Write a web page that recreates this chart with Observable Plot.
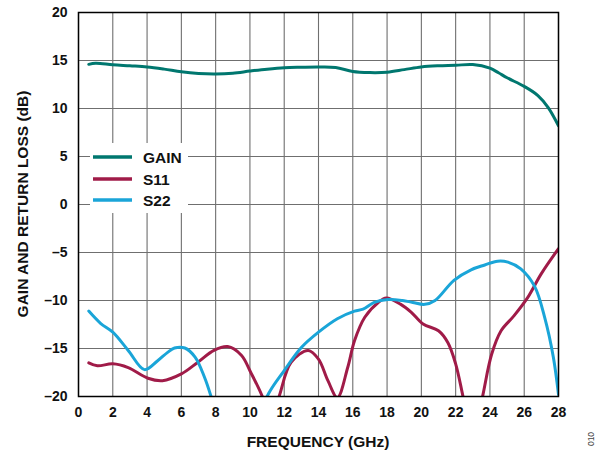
<!DOCTYPE html>
<html>
<head>
<meta charset="utf-8">
<script src="https://cdn.jsdelivr.net/npm/d3@7"></script>
<script src="https://cdn.jsdelivr.net/npm/@observablehq/plot@0.6"></script>
<style>
  html, body { margin: 0; padding: 0; background: #fff; }
  #chart { width: 605px; height: 455px; }
</style>
</head>
<body>
<div id="chart"></div>
<script>
// ---- data ----
const xTicks = [0, 2, 4, 6, 8, 10, 12, 14, 16, 18, 20, 22, 24, 26, 28];
const yTicks = [-20, -15, -10, -5, 0, 5, 10, 15, 20];
const seriesNames = ["GAIN", "S11", "S22"];

const gainFreq = [0.6, 1, 2, 3, 4, 5, 6, 7, 8, 9, 10, 11, 12, 13, 14, 15, 16, 17, 18, 19, 20, 21, 22, 23, 24, 24.5, 25, 26, 26.8, 27.4, 28];
const gainDb   = [14.6, 14.72, 14.56, 14.45, 14.33, 14.1, 13.82, 13.65, 13.6, 13.68, 13.9, 14.1, 14.25, 14.3, 14.33, 14.28, 13.85, 13.74, 13.78, 14.05, 14.33, 14.45, 14.5, 14.58, 14.2, 13.72, 13.2, 12.3, 11.35, 10.1, 8.2];

const s11Freq = [0.6, 1.1, 2, 2.9, 4.05, 4.9, 6, 6.95, 7.9, 8.7, 9.5, 10.05, 10.7, 11.2, 11.7, 12.4, 13.4, 14, 14.55, 15.1, 15.7, 16.1, 16.7, 17.5, 17.95, 18.8, 19.4, 20.1, 21, 21.55, 22, 22.4, 23, 23.6, 24.1, 24.65, 25.4, 26.2, 27, 28];
const s11Db   = [-16.5, -16.8, -16.6, -17.0, -18.1, -18.35, -17.65, -16.45, -15.2, -14.8, -15.7, -17.5, -19.9, -22.5, -20, -16.45, -15.2, -16.1, -18.35, -20.1, -17.0, -14.2, -11.75, -10.2, -9.75, -10.4, -11.2, -12.45, -13.15, -14.4, -16.6, -19.75, -25, -19.75, -15.6, -13.15, -11.6, -9.7, -7.2, -4.6];

const s22Freq = [0.6, 1.3, 2, 2.9, 3.85, 4.6, 5.2, 5.6, 6.2, 6.8, 7.35, 7.75, 8.3, 9.3, 10.3, 11, 12, 13, 14, 15.1, 16.1, 16.6, 17.25, 18.05, 18.9, 19.5, 20.2, 20.8, 21.9, 22.9, 23.7, 24.45, 25.05, 25.8, 26.6, 27.2, 27.7, 28];
const s22Db   = [-11.1, -12.4, -13.3, -15.2, -17.2, -16.3, -15.4, -14.95, -14.95, -15.9, -18.0, -20.1, -23.5, -26, -24, -20, -17.3, -14.9, -13.3, -11.9, -11.1, -10.9, -10.2, -9.9, -10.0, -10.2, -10.4, -10.0, -7.9, -6.8, -6.3, -5.9, -6.0, -6.7, -8.5, -11.8, -15.9, -19.8];

const colors = { GAIN: "#00776f", S11: "#a01b48", S22: "#1aa5d8" };
const FONT = "'Liberation Sans', Arial, Helvetica, sans-serif";

const toRows = (fs, vs, name) => fs.map((f, i) => ({ f, v: vs[i], name }));
const gainRows = toRows(gainFreq, gainDb, "GAIN");
const s11Rows = toRows(s11Freq, s11Db, "S11");
const s22Rows = toRows(s22Freq, s22Db, "S22");

const W = 605, H = 455;
const mL = 78, mR = 47, mT = 12, mB = 59;

const chart = Plot.plot({
  width: W,
  height: H,
  marginLeft: mL,
  marginRight: mR,
  marginTop: mT,
  marginBottom: mB,
  style: { fontFamily: FONT, background: "#fff", color: "#111" },
  x: { domain: [0, 28] },
  y: { domain: [-20, 20] },
  marks: [
    Plot.gridX(xTicks, { stroke: "#6f6f6f", strokeOpacity: 1, strokeWidth: 1.1 }),
    Plot.gridY(yTicks, { stroke: "#6f6f6f", strokeOpacity: 1, strokeWidth: 1.1 }),
    Plot.line(s11Rows, { x: "f", y: "v", stroke: colors.S11, strokeWidth: 3, curve: "catmull-rom", clip: true }),
    Plot.line(s22Rows, { x: "f", y: "v", stroke: colors.S22, strokeWidth: 3, curve: "catmull-rom", clip: true }),
    Plot.line(gainRows, { x: "f", y: "v", stroke: colors.GAIN, strokeWidth: 3, curve: "catmull-rom", clip: true }),
    Plot.frame({ stroke: "#000", strokeWidth: 1.5 }),
    Plot.axisX({ ticks: xTicks, tickSize: 0, tickPadding: 11, fontSize: 14, fontWeight: "bold", label: null }),
    Plot.axisY({ ticks: yTicks, tickSize: 0, tickPadding: 11, fontSize: 14, fontWeight: "bold", label: null,
                 tickFormat: d => d < 0 ? "\u2013" + Math.abs(d) : String(d) })
  ]
});

const svg = d3.select(chart);

// Axis titles
svg.append("text")
  .attr("x", (mL + (W - mR)) / 2).attr("y", 447)
  .attr("text-anchor", "middle")
  .attr("font-family", FONT).attr("font-weight", "bold").attr("font-size", 15.5)
  .attr("fill", "#111")
  .text("FREQUENCY (GHz)");

svg.append("text")
  .attr("transform", `translate(27.5,${(mT + (H - mB)) / 2}) rotate(-90)`)
  .attr("text-anchor", "middle")
  .attr("font-family", FONT).attr("font-weight", "bold").attr("font-size", 15.5)
  .attr("fill", "#111")
  .text("GAIN AND RETURN LOSS (dB)");

// Figure number
svg.append("text")
  .attr("transform", "translate(593.5,439) rotate(-90)")
  .attr("text-anchor", "middle")
  .attr("font-family", FONT).attr("font-size", 8.5)
  .attr("fill", "#444")
  .text("010");

// Legend
const lg = svg.append("g");
lg.append("rect").attr("x", 90).attr("y", 143).attr("width", 98).attr("height", 70).attr("fill", "#fff");
const legendY = [157, 179, 200];
seriesNames.forEach((name, i) => {
  lg.append("line")
    .attr("x1", 93).attr("x2", 132).attr("y1", legendY[i]).attr("y2", legendY[i])
    .attr("stroke", colors[name]).attr("stroke-width", 3.5);
  lg.append("text")
    .attr("x", 143).attr("y", legendY[i]).attr("dy", "0.36em")
    .attr("text-anchor", "start")
    .attr("font-family", FONT).attr("font-weight", "bold").attr("font-size", 15.5)
    .attr("fill", "#111")
    .text(name);
});

document.getElementById("chart").appendChild(chart);
</script>
</body>
</html>
